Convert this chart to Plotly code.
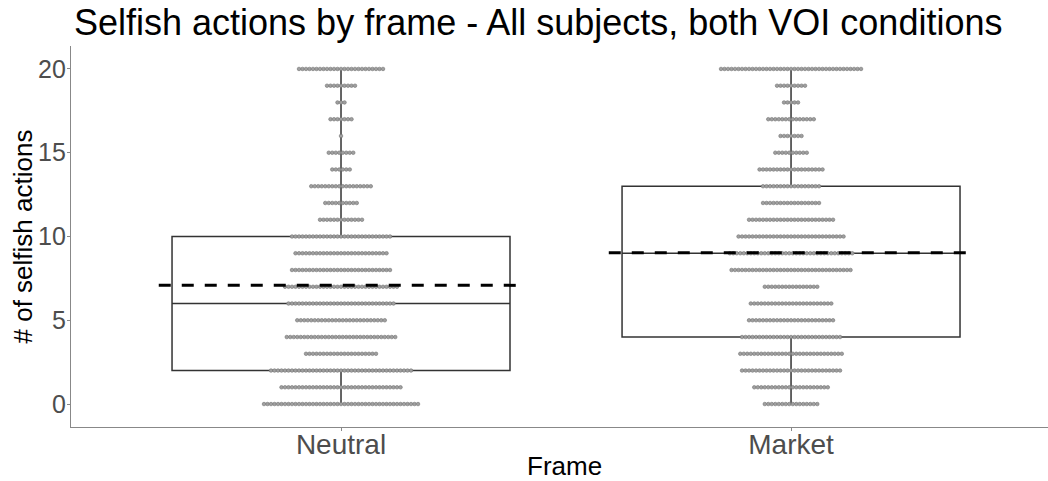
import numpy as np
import plotly.graph_objects as go

frames = ["Neutral", "Market"]
values = list(range(21))
neutral_counts = [45, 35, 41, 21, 32, 26, 31, 33, 29, 27, 29, 13, 10, 18, 6, 8, 1, 7, 3, 9, 25]
market_counts = [16, 22, 29, 30, 29, 25, 24, 16, 35, 36, 31, 25, 17, 17, 19, 10, 7, 14, 5, 9, 41]
title_text = "Selfish actions by frame - All subjects, both VOI conditions"
y_ticks = [0, 5, 10, 15, 20]

W, H = 1048, 481
ML, MR, MT, MB = 71, 0, 46, 54
PW, PH = W - ML - MR, H - MT - MB
x_range = [-0.6, 1.571]
y_range = [-1.37, 21.37]
px_per_x = PW / (x_range[1] - x_range[0])
dot_step = 3.5 / px_per_x

fig = go.Figure()

for i, counts in enumerate([neutral_counts, market_counts]):
    xs, ys = [], []
    for v, n in zip(values, counts):
        for k in range(n):
            xs.append(i + (k - (n - 1) / 2) * dot_step)
            ys.append(v)
    fig.add_trace(go.Scatter(
        x=xs, y=ys, mode="markers",
        marker=dict(size=3.6, color="#a0a0a0", line=dict(color="#707070", width=0.6)),
        hoverinfo="skip", showlegend=False))

for i, counts in enumerate([neutral_counts, market_counts]):
    data = np.repeat(values, counts)
    fig.add_trace(go.Box(
        y=data, x0=i, width=0.751, boxpoints=False, whiskerwidth=0,
        line=dict(color="#333333", width=1.5), fillcolor="rgba(0,0,0,0)",
        showlegend=False, hoverinfo="skip"))
    m = float(np.sum(np.array(values) * np.array(counts)) / np.sum(counts))
    fig.add_trace(go.Scatter(
        x=[i - 0.405, i + 0.405], y=[m, m], mode="lines",
        line=dict(color="black", width=3, dash="12px,11px"),
        hoverinfo="skip", showlegend=False))

def px_x(p):
    return (p - ML) / PW

def px_y(p):
    return (H - MB - p) / PH

fig.update_layout(
    width=W, height=H,
    margin=dict(l=ML, r=MR, t=MT, b=MB),
    paper_bgcolor="white", plot_bgcolor="white",
    boxmode="overlay",
    font=dict(family="Liberation Sans, Arial, sans-serif"),
    xaxis=dict(range=x_range, tickvals=[0, 1], ticktext=frames,
               showline=True, linecolor="#888888", linewidth=1.2,
               ticks="outside", ticklen=3, tickcolor="#888888",
               showgrid=False, zeroline=False, automargin=False,
               ticklabelstandoff=-11,
               tickfont=dict(size=28, color="#4d4d4d")),
    yaxis=dict(range=y_range, tickvals=y_ticks,
               showline=True, linecolor="#888888", linewidth=1.2,
               ticks="outside", ticklen=3, tickcolor="#888888",
               showgrid=False, zeroline=False, automargin=False,
               ticklabelstandoff=-4,
               tickfont=dict(size=25, color="#4d4d4d")),
    annotations=[
        dict(text=title_text, x=px_x(72), xref="paper", xanchor="left",
             y=px_y(23), yref="paper", yanchor="middle",
             showarrow=False, font=dict(size=36, color="black")),
        dict(text="Frame", x=px_x(564), xref="paper", xanchor="center",
             y=px_y(466), yref="paper", yanchor="middle",
             showarrow=False, font=dict(size=26, color="black")),
        dict(text="# of selfish actions", x=px_x(22), xref="paper",
             xanchor="center", y=0.5, yref="paper",
             textangle=-90, showarrow=False, font=dict(size=26, color="black")),
    ],
)

fig.write_html("out.html", config={"displayModeBar": False},
               post_script="document.body.style.margin='0px';")
